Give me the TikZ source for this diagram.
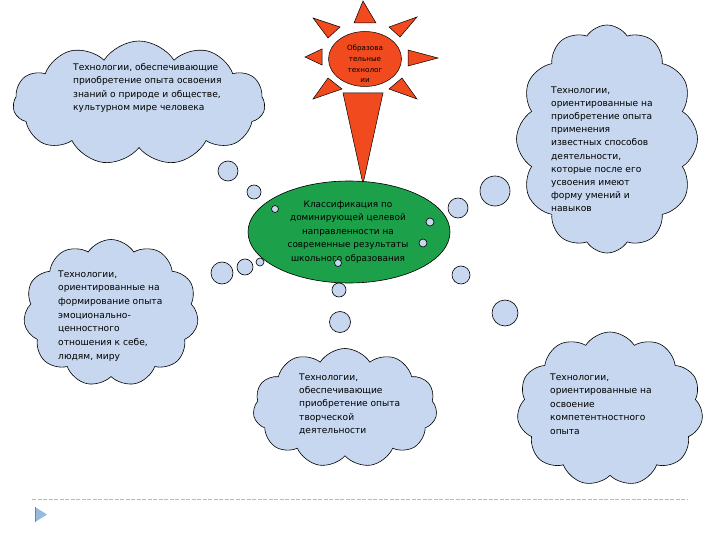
\documentclass[tikz,border=0pt]{standalone}
\usepackage{fontspec}
\setmainfont{DejaVu Sans}
\usetikzlibrary{shapes.symbols,shapes.geometric}
\definecolor{cloudblue}{RGB}{198,215,239}
\definecolor{sunred}{RGB}{240,74,30}
\definecolor{ovalgreen}{RGB}{28,160,74}
\definecolor{bulletblue}{RGB}{150,185,222}
\definecolor{bulletedge}{RGB}{110,130,160}
\tikzset{
  cloudbox/.style={cloud, cloud puffs=11, cloud puff arc=115, cloud ignores aspect,
    draw=black, line width=0.6pt, fill=cloudblue, inner sep=0pt},
  bubble/.style={circle, draw=black, line width=0.6pt, fill=cloudblue, inner sep=0pt},
  cloudtext/.style={anchor=north west, inner sep=0pt, align=left,
    font=\fontsize{9.1}{13.3}\selectfont},
  ray/.style={fill=sunred, draw=black, line width=0.5pt, line join=miter},
}
\begin{document}
\begin{tikzpicture}[x=1pt,y=-1pt]
\useasboundingbox (0,0) rectangle (720,540);

% clouds
\node[cloudbox, minimum width=252pt, minimum height=124pt] (c1) at (139,103) {};
\node[cloudbox, minimum width=181pt, minimum height=228pt, cloud puffs=12] (c2) at (607,139) {};
\node[cloudbox, minimum width=175pt, minimum height=147pt] (c3) at (111,313) {};
\node[cloudbox, minimum width=184pt, minimum height=119pt] (c4) at (345,408) {};
\node[cloudbox, minimum width=186pt, minimum height=154pt] (c5) at (610,409) {};

% sun rays
\path[ray] (354,23) -- (363,1) -- (376,23) -- cycle;
\path[ray] (340,27) -- (313,18) -- (328,38) -- cycle;
\path[ray] (389,27) -- (417,17) -- (400,37) -- cycle;
\path[ray] (322,49) -- (305,57) -- (322,65) -- cycle;
\path[ray] (408,50) -- (438,58) -- (408,66) -- cycle;
\path[ray] (328,78) -- (313,99) -- (342,89) -- cycle;
\path[ray] (402,78) -- (417,99) -- (389,89) -- cycle;
\path[ray] (343,93) -- (383,93) -- (363,184) -- cycle;
\node[ellipse, minimum width=73pt, minimum height=55pt, fill=sunred, draw=black,
  line width=0.5pt, inner sep=0pt] (sun) at (365,59) {};
\node[align=center, inner sep=0pt, font=\fontsize{7.2}{10.8}\selectfont] (suntext) at (365,64)
  {Образова\\тельные\\технолог\\ии};

% green oval
\node[ellipse, minimum width=202pt, minimum height=102pt, fill=ovalgreen, draw=black,
  line width=0.6pt, inner sep=0pt] (oval) at (349,232) {};
\node[align=center, inner sep=0pt, font=\fontsize{8.9}{13.5}\selectfont] (ovaltext) at (348,232)
  {Классификация по\\доминирующей целевой\\направленности на\\современные результаты\\школьного образования};

% bubbles
\node[bubble, minimum size=20pt] (b1) at (228,171) {};
\node[bubble, minimum size=14pt] (b2) at (254,192) {};
\node[bubble, minimum size=7pt] (b3) at (275,209) {};
\node[bubble, minimum size=8pt] (b4) at (260,262) {};
\node[bubble, minimum size=16pt] (b5) at (245,267) {};
\node[bubble, minimum size=22pt] (b6) at (222,273) {};
\node[bubble, minimum size=7pt] (b7) at (338,263) {};
\node[bubble, minimum size=14pt] (b8) at (339,290) {};
\node[bubble, minimum size=21pt] (b9) at (340,322) {};
\node[bubble, minimum size=8pt] (b10) at (430,222) {};
\node[bubble, minimum size=8pt] (b11) at (423,243) {};
\node[bubble, minimum size=20pt] (b12) at (458,208) {};
\node[bubble, minimum size=18pt] (b13) at (461,275) {};
\node[bubble, minimum size=30pt] (b14) at (495,191) {};
\node[bubble, minimum size=26pt] (b15) at (505,313) {};

% cloud texts
\node[cloudtext] (t1) at (73,63.3) {Технологии, обеспечивающие\\приобретение опыта освоения\\знаний о природе и обществе,\\культурном мире человека};
\node[cloudtext, font=\fontsize{9.1}{13.2}\selectfont] (t2) at (551,86.3) {Технологии,\\ориентированные на\\приобретение опыта\\применения\\известных способов\\деятельности,\\которые после его\\усвоения имеют\\форму умений и\\навыков};
\node[cloudtext, font=\fontsize{9.1}{13.7}\selectfont] (t3) at (58,270.3) {Технологии,\\ориентированные на\\формирование опыта\\эмоционально-\\ценностного\\отношения к себе,\\людям, миру};
\node[cloudtext] (t4) at (299,373.3) {Технологии,\\обеспечивающие\\приобретение опыта\\творческой\\деятельности};
\node[cloudtext, font=\fontsize{9.1}{13.5}\selectfont] (t5) at (550,373.3) {Технологии,\\ориентированные на\\освоение\\компетентностного\\опыта};

% footer line and bullet
\coordinate (l1) at (32,499);
\coordinate (l2) at (688,499);
\draw[gray!55, line width=0.7pt, dash pattern=on 4pt off 1.5pt] (l1) -- (l2);
\path[fill=bulletblue] (35,507) -- (47,514.5) -- (35,522) -- cycle;
\draw[bulletedge, line width=1pt] (35.5,507) -- (35.5,522);
\end{tikzpicture}
\end{document}
